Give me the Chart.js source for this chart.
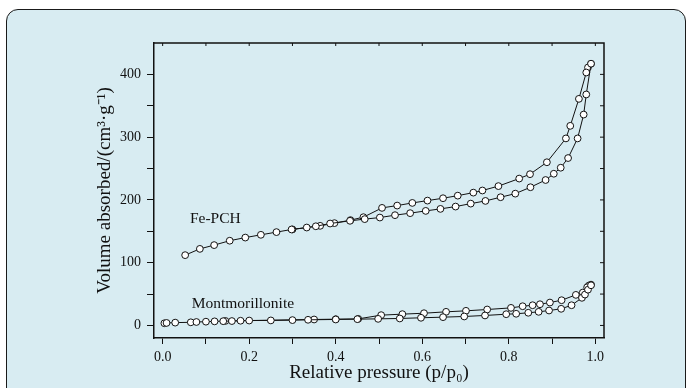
<!DOCTYPE html>
<html>
<head>
<meta charset="utf-8">
<script src="https://cdn.jsdelivr.net/npm/chart.js@4"></script>
<style>
html,body{margin:0;padding:0;background:#fff;}
#wrap{position:relative;width:690px;height:388px;overflow:hidden;}
#panel{position:absolute;left:6px;top:9px;width:680px;height:400px;background:#d8ecf2;border:1.5px solid #1a1a1a;border-radius:12px;box-sizing:border-box;}
#grafico{position:absolute;left:0;top:0;}
</style>
</head>
<body>
<div id="wrap">
<div id="panel"></div>
<canvas id="grafico" width="690" height="388"></canvas>
</div>
<script>
// Fe-PCH isotherm
const fePchAdsP = [0.052,0.086,0.119,0.155,0.191,0.227,0.263,0.298,0.333,0.354,0.387,0.433,0.467,0.502,0.537,0.572,0.608,0.642,0.677,0.712,0.746,0.781,0.815,0.850,0.885,0.904,0.920,0.937,0.959,0.973,0.979,0.990];
const fePchAdsV = [112,122,128,135,140,144.4,148.7,152.9,156,158,162.4,166.7,169.4,171.9,175.7,178.9,182.5,185.7,189.4,194.1,198.4,204.3,210,220.2,231.7,241.7,251.3,266.7,298,336,368,417];
const fePchDesP = [0.990,0.983,0.979,0.962,0.942,0.932,0.888,0.849,0.824,0.776,0.739,0.718,0.682,0.648,0.612,0.577,0.542,0.507,0.464,0.434,0.397,0.364,0.300];
const fePchDesV = [417,411,403,361,318,298,260,241,234,222,215,211.6,206.8,202.7,198.9,195.2,191,187.3,172.5,167.8,163,158.7,153];

// Montmorillonite isotherm
const montAdsP = [0.004,0.009,0.029,0.065,0.078,0.100,0.120,0.140,0.160,0.180,0.200,0.250,0.300,0.336,0.400,0.450,0.498,0.548,0.597,0.648,0.697,0.745,0.794,0.817,0.845,0.869,0.893,0.921,0.945,0.969,0.976,0.983,0.990];
const montAdsV = [3.5,4,4.5,5,5.5,6,6.5,6.8,7,7.5,7.8,8,8.5,9,9.5,10,10.5,11.1,12.2,13.2,14.3,15.9,17.9,18.6,20.2,21.7,23.8,26.5,32.2,44,49.2,57,64];
const montDesP = [0.990,0.985,0.981,0.971,0.955,0.922,0.895,0.872,0.855,0.832,0.805,0.750,0.701,0.655,0.604,0.554,0.505,0.452,0.400,0.350,0.145];
const montDesV = [65,63.5,60.8,52.4,48.7,40.2,36.5,33.8,32.2,30.6,28,25.4,23.3,21.7,19.5,18,16.4,10.5,10,9.5,7.2];

const xTicks = [0,0.1,0.2,0.3,0.4,0.5,0.6,0.7,0.8,0.9,1.0];
const yTicks = [0,50,100,150,200,250,300,350,400];

const seriesNames = ['Fe-PCH','Montmorillonite'];
const seriesLabelP = [0.063,0.067];
const seriesLabelV = [170,35];

function pontos(px, vy){
return px.map((p,i)=>({x:p,y:vy[i]}));
}

function serie(nome, px, vy){
return {
label:nome,
data:pontos(px,vy),
borderColor:'#111',
borderWidth:1,
pointRadius:3.4,
pointBackgroundColor:'#fff',
pointBorderColor:'#111',
pointBorderWidth:1,
tension:0,
fill:false
};
}

const moldura = {
id:'moldura',
afterDraw(chart){
const ctx = chart.ctx;
const a = chart.chartArea;
const xs = chart.scales.x;
const ys = chart.scales.y;
ctx.save();
ctx.strokeStyle = '#111';
ctx.lineWidth = 1.5;
ctx.beginPath();
ctx.moveTo(a.left,a.top);
ctx.lineTo(a.right,a.top);
ctx.lineTo(a.right,a.bottom);
ctx.stroke();
ctx.lineWidth = 1;
ctx.beginPath();
xTicks.forEach(v=>{
const px = xs.getPixelForValue(v);
ctx.moveTo(px,a.top);
ctx.lineTo(px,a.top+3);
});
yTicks.forEach(v=>{
const py = ys.getPixelForValue(v);
ctx.moveTo(a.right,py);
ctx.lineTo(a.right-4,py);
});
ctx.stroke();
ctx.fillStyle = '#111';
ctx.font = '15.5px "Liberation Serif"';
ctx.textBaseline = 'middle';
seriesNames.forEach((n,i)=>{
ctx.fillText(n, xs.getPixelForValue(seriesLabelP[i]), ys.getPixelForValue(seriesLabelV[i]));
});
ctx.restore();
}
};

const fonte = {family:'"Liberation Serif"', size:14};

new Chart(document.getElementById('grafico'),{
type:'line',
data:{
datasets:[
serie('Fe-PCH adsorption',fePchAdsP,fePchAdsV),
serie('Fe-PCH desorption',fePchDesP,fePchDesV),
serie('Montmorillonite adsorption',montAdsP,montAdsV),
serie('Montmorillonite desorption',montDesP,montDesV)
]
},
options:{
responsive:false,
animation:false,
layout:{padding:{left:85,right:86,top:43,bottom:0}},
plugins:{legend:{display:false},tooltip:{enabled:false}},
scales:{
x:{
type:'linear',
min:-0.02,
max:1.02,
afterBuildTicks(s){ s.ticks = xTicks.map(v=>({value:v})); },
afterFit(s){ s.height = 50; },
ticks:{
autoSkip:false,
maxRotation:0,
color:'#111',
font:fonte,
padding:5,
callback(v){
const k = Math.round(v*10);
return k % 2 === 0 ? v.toFixed(1) : '';
}
},
grid:{drawOnChartArea:false,tickLength:6,color:'#111',tickWidth:1},
border:{display:true,color:'#111',width:1.5},
title:{
display:true,
text:'Relative pressure (p/p\u2080)',
color:'#111',
font:{family:'"Liberation Serif"',size:19},
padding:{top:0,bottom:4}
}
},
y:{
min:-20,
max:450,
afterBuildTicks(s){ s.ticks = yTicks.map(v=>({value:v})); },
afterFit(s){ s.width = 69; },
ticks:{
autoSkip:false,
color:'#111',
font:fonte,
padding:6,
callback(v){ return v % 100 === 0 ? String(v) : ''; }
},
grid:{drawOnChartArea:false,tickLength:7,color:'#111',tickWidth:1},
border:{display:true,color:'#111',width:1.5},
title:{
display:true,
text:'Volume absorbed/(cm\u00b3\u00b7g\u207b\u00b9)',
color:'#111',
font:{family:'"Liberation Serif"',size:19},
padding:{top:9,bottom:0}
}
}
}
},
plugins:[moldura]
});
</script>
</body>
</html>
